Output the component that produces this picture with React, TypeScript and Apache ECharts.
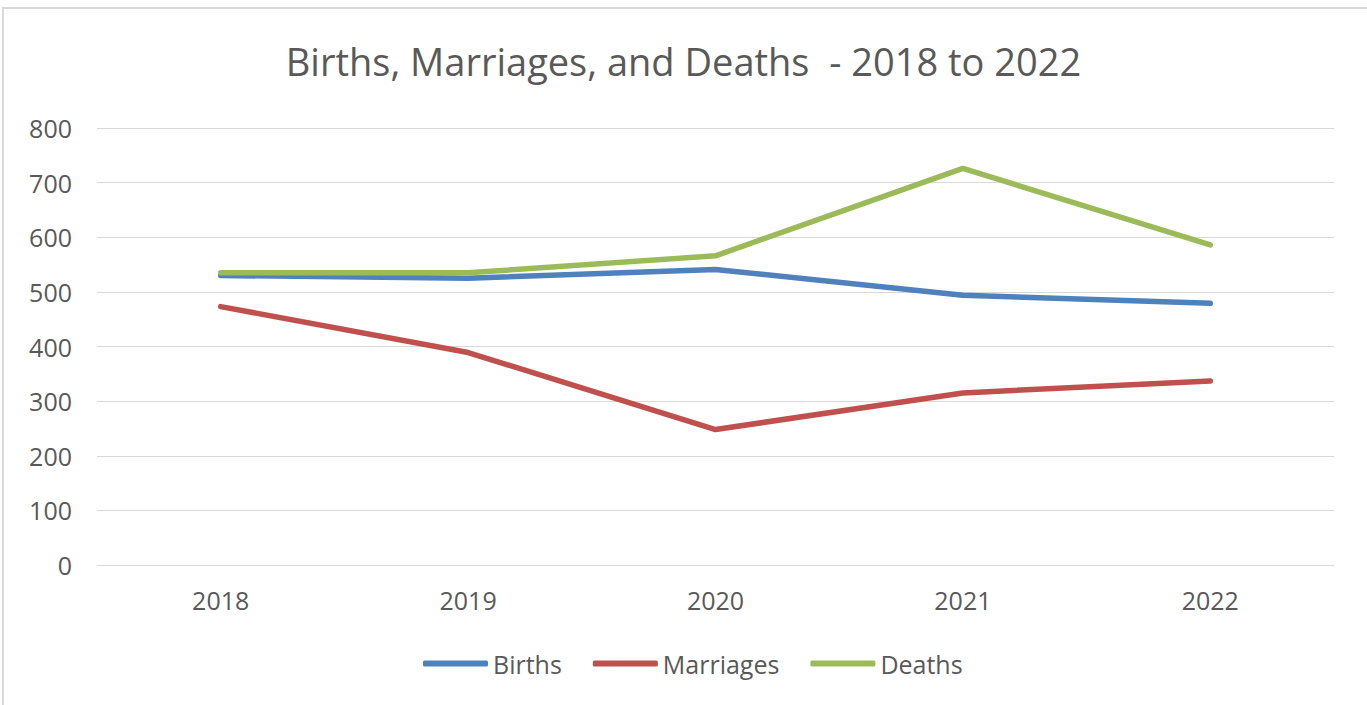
import React, { useEffect, useRef } from "react";
import * as echarts from "echarts";

const years = ["2018", "2019", "2020", "2021", "2022"];
const births = [530, 525, 541, 494, 479];
const marriages = [473, 389, 248, 315, 337];
const deaths = [535, 535, 566, 726, 586];

const FONT = "'Open Sans', 'Liberation Sans', sans-serif";
const TEXT = "#595959";

export default function App() {
  const ref = useRef<HTMLDivElement>(null);
  useEffect(() => {
    if (!ref.current) return;
    const chart = echarts.init(ref.current, null, { renderer: "svg" });
    chart.setOption({
      animation: false,
      backgroundColor: "#ffffff",
      title: {
        text: "Births, Marriages, and Deaths  - 2018 to 2022",
        left: "center",
        top: 37,
        textStyle: { fontFamily: FONT, fontSize: 38, fontWeight: "normal", color: TEXT },
      },
      graphic: [
        {
          type: "rect",
          shape: { x: 3, y: 8, width: 1400, height: 740 },
          style: { fill: "none", stroke: "#d9d9d9", lineWidth: 2 },
          silent: true,
        },
      ],
      grid: { left: 97, right: 33, top: 128, bottom: 140 },
      legend: {
        bottom: 24,
        left: 418,
        icon: "roundRect",
        itemWidth: 65,
        itemHeight: 6,
        itemGap: 31,
        textStyle: { fontFamily: FONT, fontSize: 25, color: TEXT },
        data: ["Births", "Marriages", "Deaths"],
      },
      xAxis: {
        type: "category",
        data: years,
        boundaryGap: true,
        axisLine: { show: true, lineStyle: { color: "#d9d9d9", width: 1 } },
        axisTick: { show: false },
        axisLabel: { fontFamily: FONT, fontSize: 25, color: TEXT, margin: 22 },
      },
      yAxis: {
        type: "value",
        min: 0,
        max: 800,
        interval: 100,
        axisLine: { show: false },
        axisTick: { show: false },
        splitLine: { lineStyle: { color: "#d9d9d9", width: 1 } },
        axisLabel: { fontFamily: FONT, fontSize: 25, color: TEXT, margin: 25 },
      },
      series: [
        {
          name: "Births",
          type: "line",
          data: births,
          showSymbol: false,
          symbol: "none",
          lineStyle: { color: "#4F81BD", width: 5.5, cap: "round", join: "round" },
          itemStyle: { color: "#4F81BD" },
        },
        {
          name: "Marriages",
          type: "line",
          data: marriages,
          showSymbol: false,
          symbol: "none",
          lineStyle: { color: "#C0504D", width: 5.5, cap: "round", join: "round" },
          itemStyle: { color: "#C0504D" },
        },
        {
          name: "Deaths",
          type: "line",
          data: deaths,
          showSymbol: false,
          symbol: "none",
          lineStyle: { color: "#9BBB59", width: 5.5, cap: "round", join: "round" },
          itemStyle: { color: "#9BBB59" },
        },
      ],
    });
    return () => chart.dispose();
  }, []);
  return (
    <div
      ref={ref}
      style={{ position: "fixed", left: 0, top: 0, width: 1367, height: 705 }}
    />
  );
}
